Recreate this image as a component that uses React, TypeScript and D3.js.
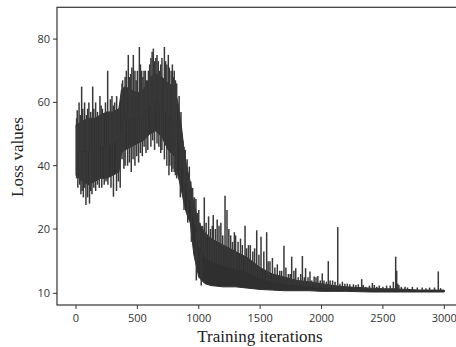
import React from "react";
import * as d3 from "d3";

// Core band of the loss curve (dense oscillation)
const bandIters = [0, 50, 100, 150, 200, 250, 300, 350, 370, 400, 450, 500, 550, 600, 650, 700, 750, 800, 830, 860, 880, 900, 930, 960, 1000, 1050, 1100, 1200, 1300, 1400, 1500, 1600, 1700, 1800, 1900, 2000, 2100, 2200, 2300, 2400, 2500, 2600, 2700, 2800, 2900, 3000];
const bandLower = [37, 35, 34, 35, 36, 36, 37, 38, 44, 45, 46, 47, 48, 50, 51, 49, 45, 43, 37, 32, 28, 25, 22, 16, 12.5, 11.5, 11.2, 11.0, 11.0, 10.8, 10.6, 10.5, 10.4, 10.4, 10.4, 10.3, 10.3, 10.3, 10.25, 10.2, 10.2, 10.2, 10.2, 10.2, 10.2, 10.2];
const bandUpper = [53, 54, 55, 55, 56, 57, 57, 58, 64, 65, 64, 63, 64, 68, 69, 68, 66, 65, 60, 52, 45, 40, 35, 28, 22, 19.5, 18.5, 17.5, 16.5, 15.5, 14, 13, 12.5, 12, 11.8, 11.5, 11.2, 11.0, 10.9, 10.8, 10.7, 10.7, 10.6, 10.5, 10.5, 10.5];

// Upward spikes (iteration, loss)
const spikeIters = [5, 10, 25, 35, 46, 55, 70, 85, 95, 105, 120, 136, 145, 160, 175, 195, 205, 215, 225, 240, 258, 270, 280, 293, 305, 315, 325, 331, 345, 355, 375, 380, 400, 410, 426, 435, 445, 455, 467, 480, 490, 500, 516, 525, 535, 545, 554, 565, 575, 590, 600, 610, 620, 630, 640, 650, 660, 670, 680, 690, 700, 720, 730, 740, 752, 760, 775, 785, 793, 800, 810, 820, 840, 855, 865, 870, 880, 890, 905, 915, 923, 935, 945, 950, 965, 977, 990, 1000, 1010, 1030, 1045, 1060, 1080, 1095, 1110, 1118, 1135, 1150, 1165, 1180, 1195, 1214, 1230, 1245, 1260, 1275, 1290, 1300, 1320, 1340, 1355, 1377, 1390, 1405, 1420, 1440, 1455, 1472, 1490, 1507, 1530, 1553, 1565, 1580, 1600, 1620, 1640, 1660, 1675, 1694, 1710, 1730, 1745, 1757, 1775, 1790, 1810, 1830, 1844, 1860, 1870, 1890, 1906, 1920, 1940, 1955, 1970, 1990, 2006, 2020, 2040, 2055, 2070, 2090, 2110, 2132, 2150, 2170, 2190, 2210, 2230, 2260, 2280, 2300, 2327, 2340, 2360, 2390, 2414, 2430, 2450, 2470, 2500, 2530, 2560, 2585, 2604, 2612, 2620, 2630, 2650, 2680, 2700, 2740, 2780, 2820, 2850, 2880, 2920, 2951, 2970];
const spikeValues = [55, 57.5, 60, 56, 65, 58, 60, 56, 58, 60, 57, 65, 58, 60, 57, 62, 59, 58, 56, 60, 70, 57, 61, 62, 59, 60, 57, 62, 58, 59, 66, 67, 68, 70, 75, 68, 69, 71, 75, 70, 67, 70, 77.5, 72, 70, 68, 70, 70, 67, 70, 72, 74, 76, 77, 73, 74, 75, 73, 70, 72, 74, 77.5, 73, 72, 75, 71, 70, 72, 68, 70, 67, 66, 62, 57, 50, 48, 46, 45, 42, 36, 39.7, 35, 32, 33, 30, 29.5, 25, 26, 22, 21, 30, 22, 24, 20, 21, 24.4, 20, 23, 21, 22, 19, 30.5, 26, 20, 19, 18, 19.5, 19, 18, 18.5, 17.5, 21, 17, 17.5, 17.5, 16.5, 17, 19.8, 16, 18.8, 16.5, 19.5, 15, 15, 15.5, 14, 14.5, 13.5, 13.5, 17.4, 14, 13, 13, 15.7, 13.5, 13.9, 12.5, 13, 15.8, 12.5, 13.9, 12.5, 13.4, 12, 12.6, 12.5, 12.7, 12, 13.1, 12, 11.8, 15, 12, 12, 11.8, 20.6, 11.5, 11.8, 11.5, 11.5, 11.4, 11.4, 11.3, 11.4, 12.2, 11.3, 11, 11.2, 11.6, 11.3, 11, 11.2, 11, 11.2, 11.2, 11.8, 15.7, 13.5, 11.5, 11.3, 11, 11, 10.9, 11, 10.9, 10.9, 10.8, 10.9, 10.9, 13.4, 10.8];

// Downward dips (iteration, loss)
const dipIters = [5, 15, 30, 40, 50, 60, 70, 81, 95, 110, 120, 130, 145, 160, 175, 190, 210, 230, 245, 260, 285, 305, 330, 345, 360, 375, 390, 400, 420, 435, 450, 465, 480, 495, 510, 525, 540, 555, 570, 585, 610, 625, 640, 660, 675, 690, 700, 720, 740, 757, 765, 780, 790, 800, 810, 820, 850, 880, 910, 940, 980, 1020];
const dipValues = [36, 33, 34, 31, 32, 30, 33, 27.6, 30, 28, 32, 31, 33, 32, 34, 33, 33, 34, 35, 34, 33, 30.2, 32, 35, 33, 42, 39, 40, 40, 41, 38, 42, 40, 43, 41, 44, 43, 46, 44, 45, 46, 48, 45, 47, 46, 44, 45, 42, 40, 37, 40, 38, 39, 38, 37, 36, 30, 26, 22, 18, 12, 11.2];

const xTicks = [0, 500, 1000, 1500, 2000, 2500, 3000];
const yTicks = [10, 20, 40, 60, 80];

const W = 456;
const H = 347;
const frame = { left: 57, top: 7.3, right: 462, bottom: 305 };

export default function App() {
  const x = d3.scaleLinear().domain([0, 3000]).range([76, 444.3]);
  const y = d3.scaleLinear().domain([8.18, 10, 20, 90]).range([frame.bottom, 293.3, 229, 7.45]);

  const lowAt = d3.scaleLinear().domain(bandIters).range(bandLower);
  const upAt = d3.scaleLinear().domain(bandIters).range(bandUpper);

  const area = d3
    .area<number>()
    .x((_, i) => x(bandIters[i]))
    .y0((_, i) => y(bandLower[i]))
    .y1((_, i) => y(bandUpper[i]));

  const lineColor = "#2f2f2f";

  return (
    <div style={{ position: "absolute", left: 0, top: 0 }}>
      <svg width={W} height={H} style={{ display: "block", background: "#fff" }}>
        <path d={area(bandIters) || ""} fill={lineColor} stroke={lineColor} strokeWidth={1} />
        {spikeIters.map((it, i) => (
          <line
            key={"s" + i}
            x1={x(it)}
            x2={x(it)}
            y1={y((lowAt(it) + upAt(it)) / 2)}
            y2={y(spikeValues[i])}
            stroke="#383838"
            strokeWidth={1.5}
          />
        ))}
        {dipIters.map((it, i) => (
          <line
            key={"d" + i}
            x1={x(it)}
            x2={x(it)}
            y1={y((lowAt(it) + upAt(it)) / 2)}
            y2={y(dipValues[i])}
            stroke="#383838"
            strokeWidth={1.5}
          />
        ))}
        {/* frame */}
        <rect
          x={frame.left}
          y={frame.top}
          width={frame.right - frame.left}
          height={frame.bottom - frame.top}
          fill="none"
          stroke="#333"
          strokeWidth={1.2}
        />
        {/* y ticks */}
        {yTicks.map((t) => (
          <g key={"y" + t}>
            <line x1={frame.left - 4} x2={frame.left} y1={y(t)} y2={y(t)} stroke="#333" strokeWidth={1} />
            <text
              x={frame.left - 7}
              y={y(t)}
              dy="0.35em"
              textAnchor="end"
              fontFamily="'Open Sans', sans-serif"
              fontSize={11}
              fill="#333"
            >
              {t}
            </text>
          </g>
        ))}
        {/* x ticks */}
        {xTicks.map((t) => (
          <g key={"x" + t}>
            <line x1={x(t)} x2={x(t)} y1={frame.bottom} y2={frame.bottom + 4} stroke="#333" strokeWidth={1} />
            <text
              x={x(t)}
              y={322}
              textAnchor="middle"
              fontFamily="'Open Sans', sans-serif"
              fontSize={11}
              fill="#333"
            >
              {t}
            </text>
          </g>
        ))}
        <text
          x={260}
          y={342}
          textAnchor="middle"
          fontFamily="'Liberation Serif', 'Times New Roman', serif"
          fontSize={17}
          fill="#222"
        >
          Training iterations
        </text>
        <text
          transform={`translate(23,157) rotate(-90)`}
          textAnchor="middle"
          fontFamily="'Liberation Serif', 'Times New Roman', serif"
          fontSize={17}
          fill="#222"
        >
          Loss values
        </text>
      </svg>
    </div>
  );
}
